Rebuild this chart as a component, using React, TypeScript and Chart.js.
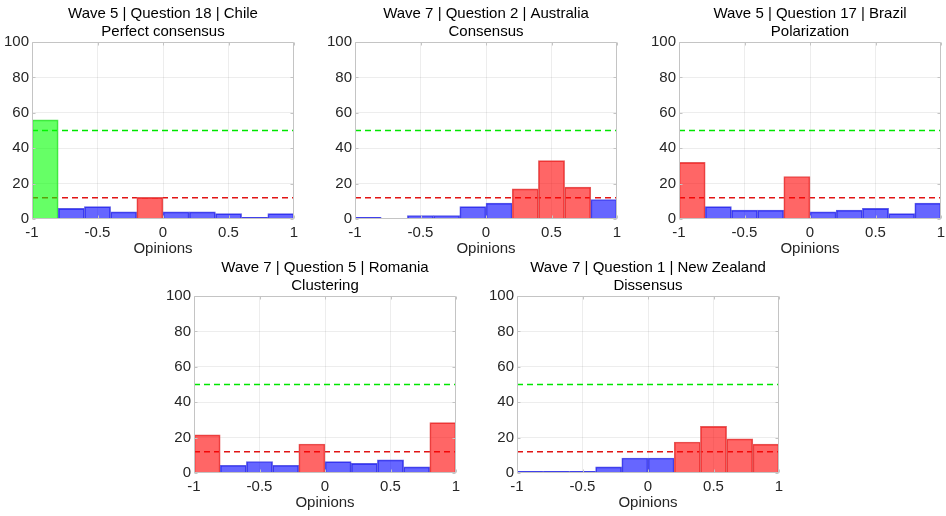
import React, { useEffect, useRef } from 'react';
import { Chart, registerables } from 'chart.js';

Chart.register(...registerables);

// ---------- data ----------
const binCenters = [-0.9, -0.7, -0.5, -0.3, -0.1, 0.1, 0.3, 0.5, 0.7, 0.9];
const xTickValues = [-1, -0.5, 0, 0.5, 1];
const xTickLabels = ['-1', '-0.5', '0', '0.5', '1'];
const yTickValues = [0, 20, 40, 60, 80, 100];
const yTickLabels = ['0', '20', '40', '60', '80', '100'];

const consensusThreshold = 50;
const clusterThreshold = 12;

const chileTitle = ['Wave 5 | Question 18 | Chile', 'Perfect consensus'];
const chileValues = [56, 6, 7, 4, 12.2, 4, 4, 3, 1, 3];

const australiaTitle = ['Wave 7 | Question 2 | Australia', 'Consensus'];
const australiaValues = [1, 0, 2, 2, 7, 9, 17, 33, 18, 11];

const brazilTitle = ['Wave 5 | Question 17 | Brazil', 'Polarization'];
const brazilValues = [32, 7, 5, 5, 24, 4, 5, 6, 3, 9];

const romaniaTitle = ['Wave 7 | Question 5 | Romania', 'Clustering'];
const romaniaValues = [21.5, 4.4, 6.5, 4.4, 16.4, 6.4, 5.4, 7.4, 3.5, 28.5];

const newZealandTitle = ['Wave 7 | Question 1 | New Zealand', 'Dissensus'];
const newZealandValues = [1, 1, 1, 3.5, 8.5, 8.5, 17.5, 26.3, 19.3, 16.3];

const xAxisLabel = 'Opinions';

// ---------- layout / style ----------
const PLOT_W = 262;
const PLOT_H = 177;
const PAD_TOP = 42;
const PAD_LEFT = 40;
const PAD_RIGHT = 8;
const PAD_BOTTOM = 40;

const panels = [
  { title: chileTitle, values: chileValues, left: 32, top: 42 },
  { title: australiaTitle, values: australiaValues, left: 355, top: 42 },
  { title: brazilTitle, values: brazilValues, left: 679, top: 42 },
  { title: romaniaTitle, values: romaniaValues, left: 194, top: 296 },
  { title: newZealandTitle, values: newZealandValues, left: 517, top: 296 },
];

const FONT = "'Liberation Sans', Arial, Helvetica, sans-serif";
const BLUE = 'rgba(0,0,255,0.6)';
const RED = 'rgba(255,0,0,0.6)';
const GREEN = 'rgba(0,255,0,0.6)';
const BLUE_EDGE = 'rgb(92,92,228)';
const RED_EDGE = 'rgb(226,92,92)';
const GREEN_EDGE = 'rgb(92,222,92)';

function barColor(v: number) {
  if (v >= consensusThreshold) return GREEN;
  if (v >= clusterThreshold) return RED;
  return BLUE;
}
function barEdge(v: number) {
  if (v >= consensusThreshold) return GREEN_EDGE;
  if (v >= clusterThreshold) return RED_EDGE;
  return BLUE_EDGE;
}

const framePlugin = {
  id: 'frame',
  afterDraw(chart: any, _args: any, opts: any) {
    const { ctx, chartArea } = chart;
    const { left, right, top, bottom } = chartArea;
    const xs = chart.scales.x;
    const ys = chart.scales.y;
    ctx.save();
    ctx.strokeStyle = '#c4c4c4';
    ctx.lineWidth = 1;
    ctx.beginPath();
    const L = Math.round(left) + 0.5;
    const R = Math.round(right) - 0.5;
    const T = Math.round(top) + 0.5;
    const B = Math.round(bottom) - 0.5;
    ctx.rect(L, T, R - L, B - T);
    for (const v of xTickValues) {
      const px = Math.round(xs.getPixelForValue(v)) + 0.5;
      ctx.moveTo(px, B);
      ctx.lineTo(px, B - 3);
      ctx.moveTo(px, T);
      ctx.lineTo(px, T + 3);
    }
    for (const v of yTickValues) {
      const py = Math.round(ys.getPixelForValue(v)) + 0.5;
      ctx.moveTo(L, py);
      ctx.lineTo(L + 3, py);
      ctx.moveTo(R, py);
      ctx.lineTo(R - 3, py);
    }
    ctx.stroke();

    const cx = (left + right) / 2;
    ctx.fillStyle = '#000';
    ctx.textAlign = 'center';
    ctx.textBaseline = 'alphabetic';
    ctx.font = `15px ${FONT}`;
    ctx.fillText(opts.title[0], cx, top - 24.5);
    ctx.fillText(opts.title[1], cx, top - 6.5);
    ctx.fillStyle = '#262626';
    ctx.fillText(xAxisLabel, cx, bottom + 33.5);
    ctx.restore();
  },
};

function Panel({ p }: { p: (typeof panels)[number] }) {
  const ref = useRef<HTMLCanvasElement>(null);
  const cw = PAD_LEFT + PLOT_W + PAD_RIGHT;
  const chh = PAD_TOP + PLOT_H + PAD_BOTTOM;

  useEffect(() => {
    if (!ref.current) return;
    const bars = binCenters.map((x, i) => ({ x, y: p.values[i] }));
    const chart = new Chart(ref.current, {
      type: 'bar',
      data: {
        datasets: [
          {
            type: 'bar',
            data: bars as any,
            backgroundColor: p.values.map(barColor),
            borderColor: p.values.map(barEdge),
            borderWidth: 1,
            barPercentage: 1,
            categoryPercentage: 1,
            order: 0,
          } as any,
          {
            type: 'line',
            data: [
              { x: -1, y: consensusThreshold },
              { x: 1, y: consensusThreshold },
            ],
            borderColor: 'rgb(0,230,0)',
            borderWidth: 1.3,
            borderDash: [6, 4],
            pointRadius: 0,
            order: 1,
          } as any,
          {
            type: 'line',
            data: [
              { x: -1, y: clusterThreshold },
              { x: 1, y: clusterThreshold },
            ],
            borderColor: 'rgb(225,20,20)',
            borderWidth: 1.3,
            borderDash: [6, 4],
            pointRadius: 0,
            order: 1,
          } as any,
        ],
      },
      options: {
        animation: false,
        responsive: false,
        devicePixelRatio: 1,
        layout: { padding: { top: PAD_TOP, left: 0, right: PAD_RIGHT, bottom: 0 } },
        plugins: {
          legend: { display: false },
          title: { display: false },
          tooltip: { enabled: false },
          frame: { title: p.title },
        } as any,
        scales: {
          x: {
            type: 'linear',
            min: -1,
            max: 1,
            offset: false,
            grid: {
              offset: false,
              drawTicks: false,
              color: (c: any) =>
                c.tick && (c.tick.value === -1 || c.tick.value === 1) ? 'rgba(0,0,0,0)' : 'rgba(0,0,0,0.07)',
            },
            border: { display: false },
            afterBuildTicks: (s: any) => {
              s.ticks = xTickValues.map((v) => ({ value: v }));
            },
            afterFit: (s: any) => {
              s.height = PAD_BOTTOM;
              s.paddingLeft = 0;
              s.paddingRight = 0;
              s.paddingTop = 0;
              s.paddingBottom = 0;
            },
            ticks: {
              padding: 5,
              maxRotation: 0,
              autoSkip: false,
              color: '#262626',
              font: { family: FONT, size: 15 },
              callback: (v: any) => xTickLabels[xTickValues.indexOf(Number(v))] ?? String(v),
            },
          },
          y: {
            type: 'linear',
            min: 0,
            max: 100,
            grid: {
              drawTicks: false,
              color: (c: any) =>
                c.tick && (c.tick.value === 0 || c.tick.value === 100) ? 'rgba(0,0,0,0)' : 'rgba(0,0,0,0.07)',
            },
            border: { display: false },
            afterBuildTicks: (s: any) => {
              s.ticks = yTickValues.map((v) => ({ value: v }));
            },
            afterFit: (s: any) => {
              s.width = PAD_LEFT;
              s.paddingLeft = 0;
              s.paddingRight = 0;
              s.paddingTop = 0;
              s.paddingBottom = 0;
            },
            ticks: {
              padding: 3,
              autoSkip: false,
              color: '#262626',
              font: { family: FONT, size: 15 },
              callback: (v: any) => yTickLabels[yTickValues.indexOf(Number(v))] ?? String(v),
            },
          },
        },
      },
      plugins: [framePlugin],
    });
    return () => chart.destroy();
  }, [p]);

  return (
    <canvas
      ref={ref}
      width={cw}
      height={chh}
      style={{
        position: 'absolute',
        left: p.left - PAD_LEFT,
        top: p.top - PAD_TOP,
        width: cw,
        height: chh,
      }}
    />
  );
}

export default function App() {
  return (
    <div
      style={{
        position: 'absolute',
        left: 0,
        top: 0,
        width: 946,
        height: 516,
        overflow: 'hidden',
        background: '#fff',
      }}
    >
      {panels.map((p, i) => (
        <Panel key={i} p={p} />
      ))}
    </div>
  );
}
